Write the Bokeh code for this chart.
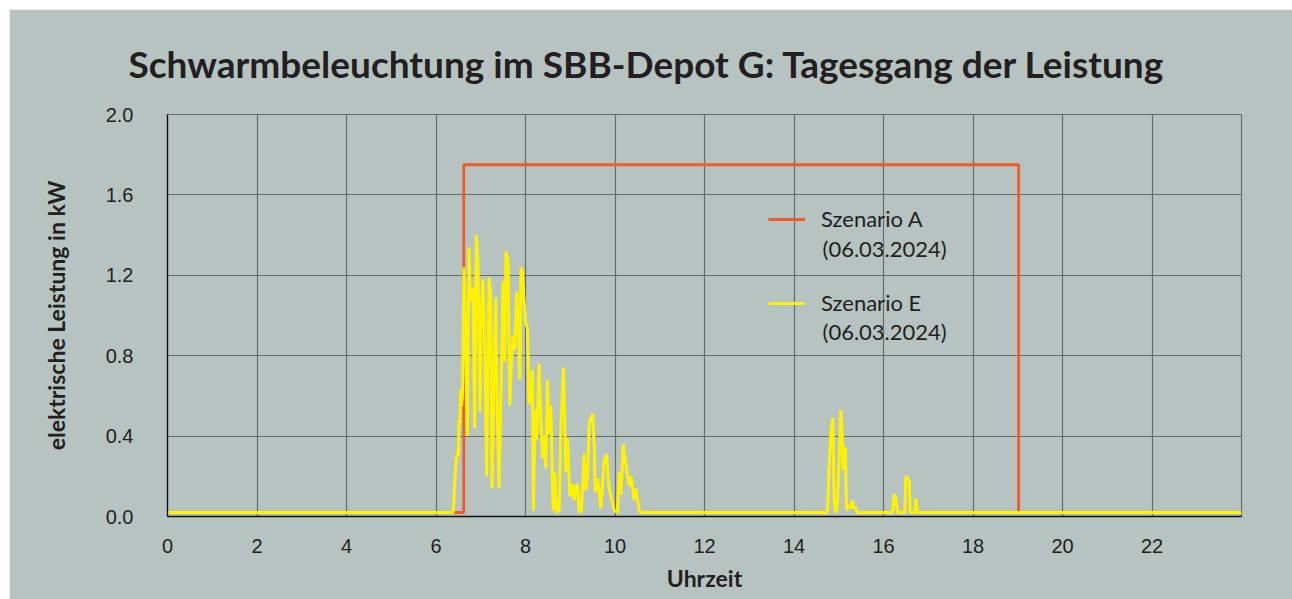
from bokeh.plotting import figure
from bokeh.models import Label, Legend, LegendItem, FixedTicker
from bokeh.embed import file_html
from bokeh.resources import INLINE

# Szenario A (06.03.2024): step profile
hours_A = [0.0, 6.62, 6.62, 19.02, 19.02, 24.0]
power_A = [0.02, 0.02, 1.75, 1.75, 0.02, 0.02]

# Szenario E (06.03.2024)
hours_E = [0.0, 6.386, 6.439, 6.476, 6.498, 6.513, 6.535, 6.550, 6.573, 6.595,
           6.625, 6.662, 6.699, 6.737, 6.766, 6.789, 6.826, 6.864, 6.901, 6.938,
           6.983, 7.013, 7.050, 7.080, 7.132, 7.184, 7.222, 7.252, 7.296, 7.334,
           7.371, 7.408, 7.460, 7.498, 7.535, 7.565, 7.609, 7.647, 7.684, 7.721,
           7.759, 7.803, 7.841, 7.871, 7.900, 7.930, 7.968, 8.005, 8.042, 8.080,
           8.117, 8.154, 8.177, 8.207, 8.229, 8.251, 8.304, 8.341, 8.378, 8.416,
           8.453, 8.490, 8.527, 8.565, 8.595, 8.617, 8.655, 8.692, 8.751, 8.789,
           8.849, 8.901, 8.938, 8.991, 9.050, 9.088, 9.125, 9.162, 9.200, 9.252,
           9.312, 9.349, 9.386, 9.424, 9.461, 9.498, 9.535, 9.558, 9.610, 9.685,
           9.759, 9.811, 9.856, 9.908, 9.983, 10.057, 10.095, 10.132, 10.184, 10.221,
           10.281, 10.318, 10.356, 10.393, 10.430, 10.467, 10.505, 10.557,
           14.748, 14.785, 14.822, 14.867, 14.897, 14.927, 14.957, 14.987, 15.016, 15.046,
           15.076, 15.098, 15.121, 15.151, 15.173, 15.210, 15.248, 15.277, 15.307, 15.337,
           15.367, 15.389, 15.419,
           16.200, 16.238, 16.275, 16.312, 16.476, 16.499, 16.536, 16.573, 16.596,
           16.700, 16.722, 16.760, 24.0]
power_E = [0.02, 0.02, 0.26, 0.32, 0.30, 0.48, 0.45, 0.63, 0.55, 0.62,
           1.24, 0.90, 0.40, 1.34, 1.10, 1.07, 1.14, 0.44, 1.40, 1.26,
           0.52, 1.03, 1.18, 0.95, 0.20, 1.19, 1.10, 0.14, 0.70, 1.09,
           0.50, 0.14, 0.70, 1.17, 0.77, 1.32, 1.27, 0.55, 0.76, 0.90,
           0.83, 1.12, 0.95, 0.68, 1.24, 1.22, 1.07, 0.96, 0.94, 0.56,
           0.58, 0.73, 0.03, 0.45, 0.53, 0.38, 0.76, 0.51, 0.29, 0.40,
           0.24, 0.68, 0.41, 0.55, 0.25, 0.03, 0.22, 0.02, 0.03, 0.44,
           0.74, 0.22, 0.39, 0.10, 0.16, 0.08, 0.15, 0.16, 0.02, 0.03,
           0.31, 0.13, 0.20, 0.46, 0.49, 0.51, 0.36, 0.12, 0.19, 0.04,
           0.28, 0.31, 0.16, 0.10, 0.03, 0.02, 0.22, 0.11, 0.36, 0.29,
           0.20, 0.15, 0.20, 0.14, 0.08, 0.14, 0.08, 0.02,
           0.02, 0.25, 0.41, 0.49, 0.08, 0.02, 0.03, 0.16, 0.33, 0.53,
           0.41, 0.23, 0.34, 0.34, 0.03, 0.05, 0.06, 0.04, 0.08, 0.04,
           0.05, 0.03, 0.02,
           0.02, 0.11, 0.09, 0.02, 0.02, 0.20, 0.19, 0.18, 0.02,
           0.02, 0.09, 0.02, 0.02]

x_ticks = [0, 2, 4, 6, 8, 10, 12, 14, 16, 18, 20, 22, 24]
x_tick_labels = ["0", "2", "4", "6", "8", "10", "12", "14", "16", "18", "20", "22", ""]
y_ticks = [0.0, 0.4, 0.8, 1.2, 1.6, 2.0]
y_tick_labels = ["0.0", "0.4", "0.8", "1.2", "1.6", "2.0"]

title_text = "Schwarmbeleuchtung im SBB-Depot G: Tagesgang der Leistung"
x_label = "Uhrzeit"
y_label = "elektrische Leistung in kW"
series_names = ["Szenario A", "Szenario E"]
series_dates = ["(06.03.2024)", "(06.03.2024)"]

BG = "#b6c3c0"
GRID = "#636d6b"
TXT = "#231f20"
RED = "#f15a29"
YEL = "#fff200"

p = figure(width=1283, height=590, x_range=(0, 24), y_range=(0, 2.0),
           output_backend="svg", toolbar_location=None,
           min_border_left=158, min_border_right=51,
           min_border_top=105, min_border_bottom=83)
p.margin = (9, 0, 0, 9)
p.background_fill_color = BG
p.border_fill_color = BG
p.outline_line_color = GRID
p.outline_line_width = 1.2

p.title.text = title_text
p.title.align = "left"
p.title.offset = -39
p.title.standoff = 58
p.title.text_font = "Lato"
p.title.text_font_style = "bold"
p.title.text_font_size = "37px"
p.title.text_color = TXT

for ax in (p.xaxis[0], p.yaxis[0]):
    ax.major_tick_line_color = None
    ax.minor_tick_line_color = None
    ax.major_tick_out = 0
    ax.major_tick_in = 0
    ax.axis_line_color = "#111111"
    ax.axis_line_width = 1.3
    ax.major_label_text_font = "Liberation Sans"
    ax.major_label_text_font_size = "20px"
    ax.major_label_text_color = TXT
    ax.axis_label_text_font = "Lato"
    ax.axis_label_text_font_style = "bold"
    ax.axis_label_text_font_size = "23px"
    ax.axis_label_text_color = TXT

p.xaxis.ticker = FixedTicker(ticks=x_ticks)
p.xaxis.major_label_overrides = {t: l for t, l in zip(x_ticks, x_tick_labels)}
p.yaxis.ticker = FixedTicker(ticks=y_ticks)
p.yaxis.major_label_overrides = {t: l for t, l in zip(y_ticks, y_tick_labels)}
p.xaxis.axis_label = x_label
p.yaxis.axis_label = y_label
p.xaxis.major_label_standoff = 22
p.yaxis.major_label_standoff = 34
p.xaxis.axis_label_standoff = 8
p.yaxis.axis_label_standoff = 33

p.xgrid.ticker = FixedTicker(ticks=x_ticks)
p.ygrid.ticker = FixedTicker(ticks=y_ticks)
for g in (p.xgrid[0], p.ygrid[0]):
    g.grid_line_color = GRID
    g.grid_line_width = 1.2

r_a = p.line(hours_A, power_A, line_color=RED, line_width=2.8)
r_e = p.line(hours_E, power_E, line_color=YEL, line_width=3)

legend = Legend(items=[LegendItem(label=series_names[0], renderers=[r_a]),
                       LegendItem(label=series_names[1], renderers=[r_e])],
                location=(601, 200), padding=0, margin=0, spacing=57,
                glyph_width=37, glyph_height=24, label_height=24,
                label_standoff=16,
                label_text_font="Lato", label_text_font_size="22px",
                label_text_color=TXT,
                background_fill_alpha=0, border_line_alpha=0)
p.add_layout(legend)

for d, yv in zip(series_dates, [1.333, 0.919]):
    p.add_layout(Label(x=14.637, y=yv, text=d, text_align="left",
                       text_baseline="alphabetic", text_font="Lato",
                       text_font_size="22px", text_color=TXT))

open("out.html", "w").write(file_html(p, INLINE))
